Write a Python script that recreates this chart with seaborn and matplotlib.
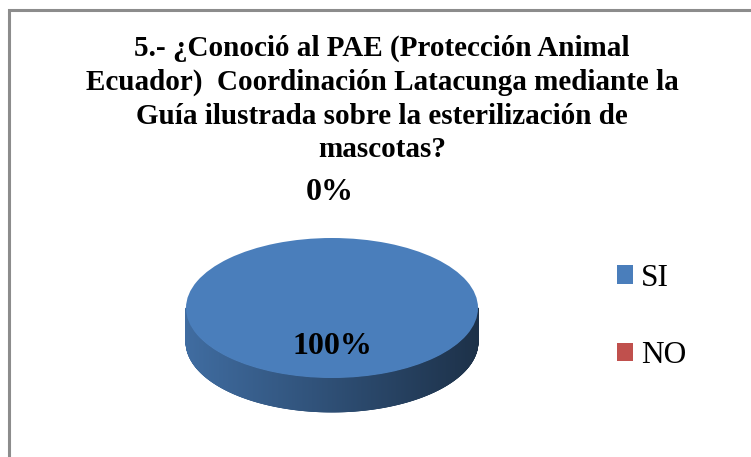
import numpy as np
import matplotlib
matplotlib.use("Agg")
import matplotlib.pyplot as plt
import seaborn as sns
from matplotlib.patches import Rectangle
from matplotlib.collections import PolyCollection

# === Data ===
categories = ["SI", "NO"]
values = [100, 0]
colors = ["#4a7ebb", "#c0504d"]
title = ("5.- ¿Conoció al PAE (Protección Animal\n"
         "Ecuador)  Coordinación Latacunga mediante la\n"
         "Guía ilustrada sobre la esterilización de\n"
         "mascotas?")

sns.set_style("white")
plt.rcParams["font.family"] = ["Liberation Serif", "DejaVu Serif"]
plt.rcParams["text.color"] = "black"

W, H = 751, 457
fig = plt.figure(figsize=(W / 100, H / 100), dpi=100)
ax = fig.add_axes([0, 0, 1, 1])

# pie geometry in pixels: center, semi axes, wall depth
cx, cy = 332, 308
a, b = 146, 70
depth = 34 / b

wedges, _ = ax.pie(values, colors=colors, startangle=90, counterclock=False,
                   radius=1, center=(0, 0), wedgeprops=dict(linewidth=0))
for w in wedges:
    w.set_zorder(3)

# side wall (front half only) with horizontal shading
for w, col in zip(wedges, colors):
    t1, t2 = sorted((w.theta1, w.theta2))
    if t2 - t1 <= 0:
        continue
    base = np.array(matplotlib.colors.to_rgb(col))
    segs = []
    for k in (-720, -360, 0, 360, 720):
        lo, hi = max(t1 + k, 180), min(t2 + k, 360)
        if hi > lo:
            segs.append((lo, hi))
    for s0, s1 in segs:
        ts = np.radians(np.linspace(s0, s1, 400))
        polys, fc = [], []
        for i in range(len(ts) - 1):
            r0, r1 = ts[i], min(ts[i + 1] + 0.006, np.radians(s1))
            x0, x1 = np.cos(r0), np.cos(r1)
            y0, y1 = np.sin(r0), np.sin(r1)
            xm = (x0 + x1) / 2
            shade = 0.86 - 0.47 * (xm + 1) / 2
            polys.append([(x0, y0), (x1, y1), (x1, y1 - depth), (x0, y0 - depth)])
            fc.append(np.clip(base * shade, 0, 1))
        ax.add_collection(PolyCollection(polys, facecolors=fc, edgecolors=fc,
                                         linewidths=0.6, zorder=2))

ax.set_aspect("auto")
ax.set_xlim(-cx / a, (W - cx) / a)
ax.set_ylim(-(H - cy) / b, cy / b)
ax.axis("off")

# percentage labels
total = sum(values)
label_pos = [(332, 347), (330, 192)]
for v, (px, py) in zip(values, label_pos):
    fig.text(px / W, 1 - py / H, f"{v / total:.0%}", ha="center", va="center",
             fontsize=23, fontweight="bold", zorder=5)

# title
fig.text(382 / W, 1 - 99 / H, title, ha="center", va="center",
         fontsize=21, fontweight="bold", linespacing=1.31)

# legend
leg = ax.legend(wedges, categories, loc="center left",
                bbox_to_anchor=(617 / W, 1 - 317 / H), bbox_transform=fig.transFigure,
                frameon=False, fontsize=22.6, handlelength=0.51, handleheight=0.51,
                handletextpad=0.25, labelspacing=1.55, borderpad=0, borderaxespad=0)

# outer border
fig.patches.append(Rectangle((8.5 / W, -0.1), 1.2, 1 - 9.5 / H + 0.1,
                             transform=fig.transFigure, fill=False,
                             edgecolor="#8c8c8c", linewidth=2.2))

plt.savefig("out.png", dpi=100)
